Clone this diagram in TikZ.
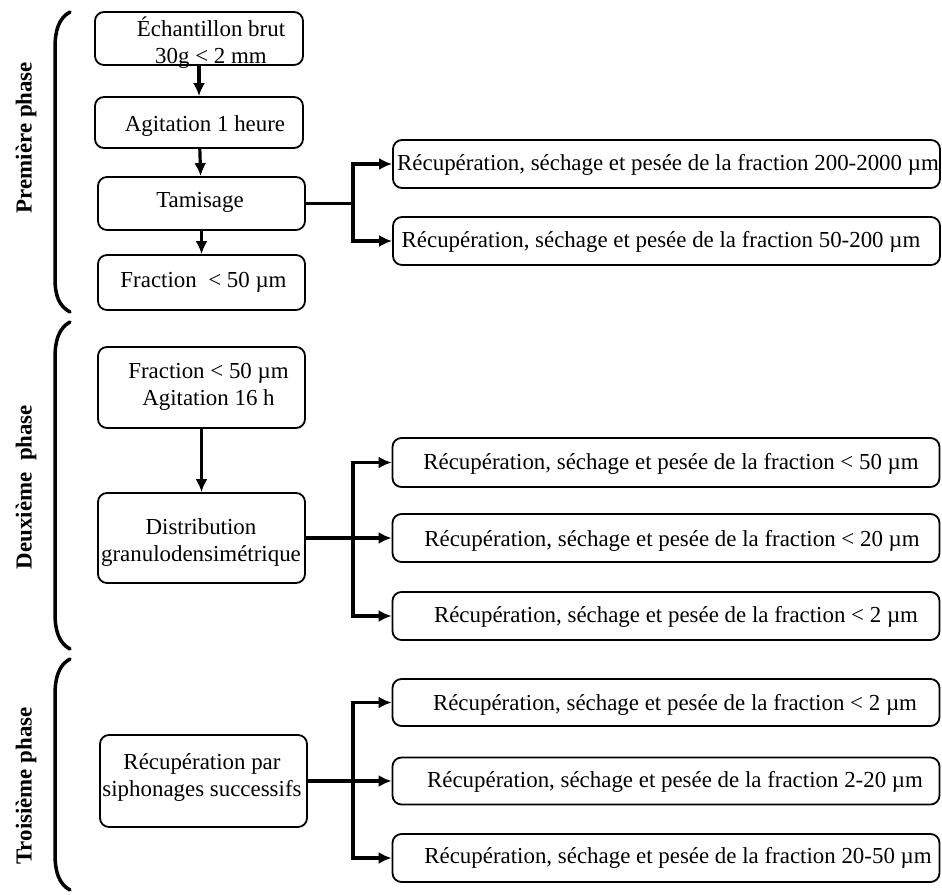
\documentclass[tikz,border=0pt]{standalone}
\usepackage{fontspec}
\setmainfont{Liberation Serif}
\usetikzlibrary{arrows.meta}
\begin{document}
\begin{tikzpicture}[x=1pt,y=-1pt,
 box/.style={draw, line width=1.8pt, rounded corners=9pt, inner sep=0pt},
 sbox/.style={box, minimum width=207pt},
 rbox/.style={box, minimum width=547pt, minimum height=48pt},
 txt/.style={font=\fontsize{22.9}{27}\selectfont, align=center, inner sep=0pt, anchor=base},
 lbl/.style={font=\fontsize{22.9}{27}\selectfont\bfseries, rotate=90, inner sep=0pt},
 conn/.style={line width=3.2pt},
 arr/.style={line width=3.2pt, -{Latex[length=13pt,width=12pt]}},
 brace/.style={line width=3.5pt, line cap=round}]
\useasboundingbox (0,0) rectangle (942,894);

% ---------- brackets ----------
\draw[brace] (70,12) .. controls (59,18) and (55,30) .. (55,48) -- (55,278) .. controls (55,296) and (59,306) .. (70,312);
\draw[brace] (70,322) .. controls (59,328) and (55,340) .. (55,358) -- (55,613) .. controls (55,631) and (59,643) .. (70,649);
\draw[brace] (70,659) .. controls (59,665) and (55,677) .. (55,695) -- (55,854) .. controls (55,872) and (59,884) .. (70,890);

\node[lbl] (l1) at (26,137.5) {Première phase};
\node[lbl] (l2) at (26,487) {Deuxième~ phase};
\node[lbl] (l3) at (26,786) {Troisième phase};

% ---------- phase 1 ----------
\node[sbox, minimum width=208pt, minimum height=53pt] (b1) at (199,38.5) {};
\node[sbox, minimum width=208pt, minimum height=51pt] (b2) at (199,122.5) {};
\node[sbox, minimum height=53pt] (b3) at (201.5,203.5) {};
\node[sbox, minimum height=55pt] (b4) at (201.5,282.5) {};
\node[txt] (t1) at (211,63) {Échantillon brut\\30g < 2 mm};
\node[txt] (t2) at (205,131) {Agitation 1 heure};
\node[txt] (t3) at (200,207) {Tamisage};
\node[txt] (t4) at (203.5,287) {Fraction~ < 50 µm};

\node[rbox] (a1) at (666.5,164) {};
\node[rbox] (a2) at (666.5,241) {};
\node[txt] (ta1) at (668,170) {Récupération, séchage et pesée de la fraction 200-2000 µm};
\node[txt] (ta2) at (661,247) {Récupération, séchage et pesée de la fraction 50-200 µm};

\draw[arr] (b1) -- (b2);
\draw[arr] (b2) -- (b3);
\draw[arr] (b3) -- (b4);
\coordinate (j1) at (353,203.5);
\draw[conn] (b3.east) -- (j1);
\draw[arr] (j1) |- (a1.west);
\draw[arr] (j1) |- (a2.west);

% ---------- phase 2 ----------
\node[sbox, minimum height=81pt] (b5) at (201.5,387.5) {};
\node[sbox, minimum height=90pt] (b6) at (201.5,538) {};
\node[txt] (t5) at (208.5,405) {Fraction < 50 µm\\Agitation 16 h};
\node[txt] (t6) at (201,561) {Distribution\\granulodensimétrique};

\node[rbox, minimum height=49pt] (c1) at (666,462.5) {};
\node[rbox] (c2) at (666,538) {};
\node[rbox] (c3) at (666,616) {};
\node[txt] (tc1) at (671,469) {Récupération, séchage et pesée de la fraction < 50 µm};
\node[txt] (tc2) at (672,546) {Récupération, séchage et pesée de la fraction < 20 µm};
\node[txt] (tc3) at (676,622) {Récupération, séchage et pesée de la fraction < 2 µm};

\draw[arr] (b5) -- (b6);
\coordinate (j2) at (353,538);
\draw[conn] (b6.east) -- (j2);
\draw[arr] (j2) |- (c1.west);
\draw[arr] (j2) -- (c2.west);
\draw[arr] (j2) |- (c3.west);

% ---------- phase 3 ----------
\node[sbox, minimum height=92pt] (b7) at (203.5,781) {};
\node[txt] (t7) at (202,796) {Récupération par\\siphonages successifs};

\node[rbox, minimum height=47pt] (d1) at (666,702.5) {};
\node[rbox, minimum height=47pt] (d2) at (666,781) {};
\node[rbox] (d3) at (666,858) {};
\node[txt] (td1) at (675,710) {Récupération, séchage et pesée de la fraction < 2 µm};
\node[txt] (td2) at (675,787) {Récupération, séchage et pesée de la fraction 2-20 µm};
\node[txt] (td3) at (678,863) {Récupération, séchage et pesée de la fraction 20-50 µm};

\coordinate (j3) at (353,781);
\draw[conn] (b7.east) -- (j3);
\draw[arr] (j3) |- (d1.west);
\draw[arr] (j3) -- (d2.west);
\draw[arr] (j3) |- (d3.west);
\end{tikzpicture}
\end{document}
